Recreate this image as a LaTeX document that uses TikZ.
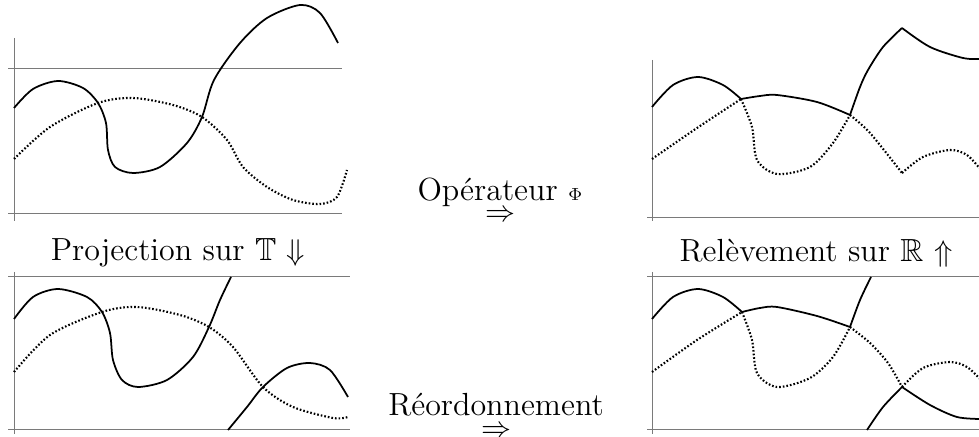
\documentclass[tikz,border=0pt]{standalone}
\usepackage{amssymb}
\usepackage{fontspec}
\usepackage{tikz}
\usetikzlibrary{positioning}
\definecolor{axisgray}{HTML}{7A7A7A}
\tikzset{
  every node/.style={font=\fontsize{12.8}{15}\selectfont,inner sep=0pt},
  axisline/.style={draw=axisgray,line width=0.4pt},
  solidcurve/.style={draw=black,line width=0.7pt,line join=round},
  dotcurve/.style={draw=black,line width=0.85pt,dash pattern=on 0.65pt off 0.8pt},
  lbl/.style={align=center},
}

\begin{document}
\begin{tikzpicture}[x=0.4pt,y=-0.4pt]
\useasboundingbox (0,0) rectangle (979,437);

% top left: the curves before projection
\draw[axisline] (14,38) -- (14,221);
\draw[axisline] (8,69) -- (342,69);
\draw[axisline] (8,214) -- (342,214);
\draw[solidcurve] plot[smooth] coordinates {(14,108) (33,89) (58,81) (83,88) (98,103) (106,123) (108,150) (115,167) (133,173) (160,167) (187,143) (202,117) (214,80) (240,43) (267,18) (300,5) (320,13) (338,43)};
\draw[dotcurve] plot[smooth] coordinates {(14,159) (50,127) (98,103) (133,98) (173,105) (202,117) (227,140) (243,167) (267,187) (293,200) (320,204) (337,197) (347,170)};

% top right: the lifted curves
\draw[axisline] (652,60) -- (652,221);
\draw[axisline] (647,218) -- (981,218);
\draw[solidcurve] plot[smooth] coordinates {(652,107) (673,85) (698,77) (723,85) (741,99)};
\draw[solidcurve] plot[smooth] coordinates {(741,99) (760,96) (777,95) (817,102) (850,115)};
\draw[solidcurve] plot[smooth] coordinates {(850,115) (860,87) (868,70) (883,47) (902,28)};
\draw[solidcurve] plot[smooth] coordinates {(902,28) (930,47) (963,58) (981,59)};
\draw[dotcurve] plot[smooth] coordinates {(652,159) (697,128) (741,99)};
\draw[dotcurve] plot[smooth] coordinates {(741,99) (752,127) (757,160) (777,174) (810,167) (833,143) (850,115)};
\draw[dotcurve] plot[smooth] coordinates {(850,115) (870,133) (902,173)};
\draw[dotcurve] plot[smooth] coordinates {(902,173) (923,157) (950,150) (967,155) (981,170)};

% bottom left: projection on T
\draw[axisline] (14,272) -- (14,434);
\draw[axisline] (8,277) -- (350,277);
\draw[axisline] (8,430) -- (350,430);
\draw[solidcurve] plot[smooth] coordinates {(14,319) (33,297) (58,289) (87,297) (102,312) (110,333) (113,360) (122,380) (138,387) (167,380) (193,357) (209,327) (220,300) (231,277)};
\draw[solidcurve] plot[smooth] coordinates {(228,430) (247,407) (263,387) (287,368) (310,363) (330,370) (348,397)};
\draw[dotcurve] plot[smooth] coordinates {(14,372) (50,335) (102,312) (137,307) (180,315) (209,327) (233,347) (263,387) (293,407) (333,418) (348,417)};

% bottom right: reordered curves
\draw[axisline] (652,272) -- (652,434);
\draw[axisline] (647,277) -- (981,277);
\draw[axisline] (647,430) -- (981,430);
\draw[solidcurve] plot[smooth] coordinates {(652,319) (673,297) (698,289) (723,297) (742,312)};
\draw[solidcurve] plot[smooth] coordinates {(742,312) (760,308) (777,307) (817,316) (850,327)};
\draw[solidcurve] plot[smooth] coordinates {(850,327) (860,300) (871,277)};
\draw[solidcurve] plot[smooth] coordinates {(867,430) (883,407) (902,387)};
\draw[solidcurve] plot[smooth] coordinates {(902,387) (930,405) (957,417) (981,419)};
\draw[dotcurve] plot[smooth] coordinates {(652,372) (697,340) (742,312)};
\draw[dotcurve] plot[smooth] coordinates {(742,312) (752,340) (757,373) (777,387) (810,378) (833,357) (850,327)};
\draw[dotcurve] plot[smooth] coordinates {(850,327) (870,343) (888,363) (902,387)};
\draw[dotcurve] plot[smooth] coordinates {(902,387) (923,368) (950,362) (967,367) (981,380)};

% labels
\node[lbl] (proj) at (178,253) {Projection sur $\mathbb{T}$ $\Downarrow$};
\node[lbl] (relev) at (816,253) {Relèvement sur $\mathbb{R}$ $\Uparrow$};
\node[lbl,anchor=north] (oper) at (500,177) {Opérateur {\scriptsize$\Phi$}\\[-6.5pt]$\Rightarrow$};
\node[lbl,anchor=north] (reord) at (496,393) {Réordonnement\\[-6.5pt]$\Rightarrow$};

\end{tikzpicture}
\end{document}
